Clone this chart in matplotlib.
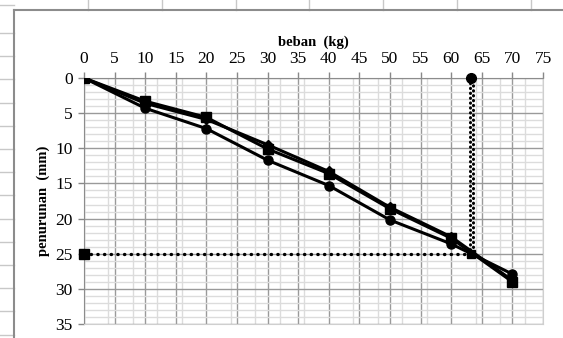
import matplotlib
matplotlib.use("Agg")
import matplotlib.pyplot as plt
from matplotlib.lines import Line2D
import numpy as np

# beban (kg) vs penurunan (mm)
beban = [0, 10, 20, 30, 40, 50, 60, 70]
turun_kotak = [0, 3.3, 5.6, 10.1, 13.6, 18.6, 22.8, 29.0]
turun_belah = [0, 3.6, 5.9, 9.5, 13.3, 18.4, 22.6, 28.8]
turun_bulat = [0, 4.3, 7.2, 11.7, 15.3, 20.2, 23.6, 27.9]

# titik baca pada 25 mm
baca_x = 63.3
baca_y = 25

x_ticks = np.arange(0, 80, 5)
y_ticks = np.arange(0, 40, 5)

plt.rcParams['font.family'] = ['Liberation Serif', 'DejaVu Serif']

W, H = 563, 338
fig = plt.figure(figsize=(W / 100, H / 100), dpi=100)

# spreadsheet background stubs + chart frame
sheet = '#c8c8c8'
for yy in [5] + list(np.arange(33, 338, 23.2)):
    fig.add_artist(Line2D([0, 14 / W], [1 - yy / H] * 2, color=sheet, lw=1))
for xx in np.arange(88, 563, 73.8):
    fig.add_artist(Line2D([xx / W] * 2, [1, 1 - 10 / H], color=sheet, lw=1))
fig.add_artist(Line2D([14 / W, 1], [1 - 10 / H] * 2, color='#8c8c8c', lw=1.5))
fig.add_artist(Line2D([14 / W] * 2, [1 - 10 / H, 0], color='#8c8c8c', lw=1.5))

ax = fig.add_axes([84 / W, 1 - 324 / H, (543 - 84) / W, (324 - 78) / H])
ax.set_xlim(0, 75)
ax.set_ylim(35, 0)

ax.set_xticks(x_ticks)
ax.set_yticks(y_ticks)
ax.set_xticks(np.arange(4, 75, 4), minor=True)
ax.set_yticks(np.arange(1, 35, 1), minor=True)
ax.xaxis.tick_top()
ax.xaxis.set_label_position('top')
ax.tick_params(which='major', length=4, width=1, color='#888888', labelsize=12.5, pad=4)
ax.tick_params(which='minor', length=0)

ax.grid(which='major', color='#9a9a9a', lw=1)
ax.grid(which='minor', color='#dcdcdc', lw=1)
ax.set_axisbelow(True)

for s in ['top', 'left']:
    ax.spines[s].set_color('#8c8c8c')
for s in ['right', 'bottom']:
    ax.spines[s].set_color('#cfcfcf')

ax.set_xlabel('beban  (kg)', fontweight='bold', fontsize=10.5, labelpad=4)
ax.set_ylabel('penurunan  (mm)', fontweight='bold', fontsize=10.5, labelpad=4)

ax.plot(beban, turun_bulat, color='black', lw=2.2, marker='o', ms=6.5, zorder=3)
ax.plot(beban, turun_belah, color='black', lw=2.2, marker='D', ms=5, zorder=3)
ax.plot(beban, turun_kotak, color='black', lw=2.2, marker='s', ms=7, zorder=3)

# garis bantu bacaan
ax.plot([0, baca_x], [baca_y, baca_y], color='black', lw=2.4,
        linestyle=(0, (0.1, 1.9)), dash_capstyle='round', zorder=4)
ax.plot([0], [baca_y], marker='s', color='black', ms=7, zorder=5, clip_on=False)
ax.plot([baca_x], [baca_y], marker='s', color='black', ms=6, zorder=5)
ax.plot([baca_x - 0.2, baca_x - 0.2], [0, baca_y], color='black', lw=2.2,
        linestyle=(0, (0.1, 1.5)), dash_capstyle='round', zorder=4)
ax.plot([baca_x + 0.2, baca_x + 0.2], [0, baca_y], color='black', lw=2.2,
        linestyle=(0.8, (0.1, 1.5)), dash_capstyle='round', zorder=4)
ax.plot([baca_x], [0], marker='o', color='black', ms=7, zorder=5, clip_on=False)

fig.savefig('out.png', dpi=100)
